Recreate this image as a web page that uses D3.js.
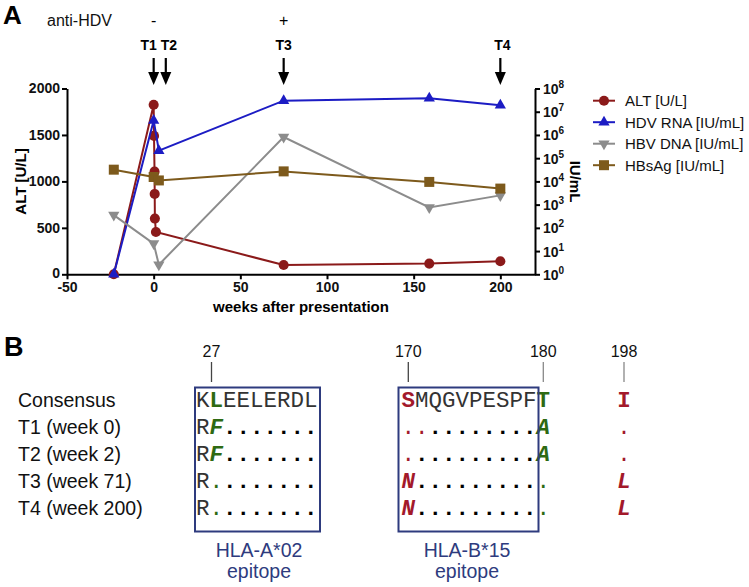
<!DOCTYPE html>
<html><head><meta charset="utf-8">
<script src="https://cdn.jsdelivr.net/npm/d3@7"></script>
<style>body{margin:0;background:#fff} svg{display:block;font-family:"Liberation Sans",Arial,sans-serif}</style>
</head><body><svg id="c" width="749" height="587"></svg>
<script>
// ---------- Data: panel A ----------
const altWeeks  = [-23, 0, 0.2, 0.5, 0.6, 0.7, 1.3, 75, 159, 200];
const altValues = [0, 1825, 1490, 1105, 865, 600, 455, 100, 115, 140];
const virWeeks  = [-23, 0, 3, 75, 159, 200];
const hdvRna    = [1, 4.2e6, 2.1e5, 3.0e7, 3.8e7, 1.9e7];
const hbvDna    = [355, 21, 2.6, 8.1e5, 760, 2500];
const hbsAg     = [3.2e4, 1.55e4, 1.1e4, 2.7e4, 9500, 4900];
const seriesNames = ["ALT [U/L]", "HDV RNA [IU/mL]", "HBV DNA [IU/mL]", "HBsAg [IU/mL]"];
const xTicks = [-50, 0, 50, 100, 150, 200];
const leftTicks = [0, 500, 1000, 1500, 2000];
const rightExponents = [0, 1, 2, 3, 4, 5, 6, 7, 8];
const timepoints = ["T1", "T2", "T3", "T4"];
const timepointWeeks = [0, 7, 75, 200];
const antiHdvSigns = ["-", "+"];
const antiHdvWeeks = [0, 75];

// ---------- Data: panel B ----------
const rowLabels = ["Consensus", "T1 (week 0)", "T2 (week 2)", "T3 (week 71)", "T4 (week 200)"];
const blockA = ["KLEELERDL", "RF.......", "RF.......", "R........", "R........"];
const blockB = ["SMQGVPESPFT", "..........A", "..........A", "N..........", "N.........."];
const pos198 = ["I", ".", ".", "L", "L"];
const positionLabels = ["27", "170", "180", "198"];
const epitopeNames = ["HLA-A*02", "HLA-B*15"];
// highlighted residues: [block, row, col, colour key, style]
const highlights = [
  ["A",0,1,"g","b"],["A",1,1,"g","bi"],["A",2,1,"g","bi"],["A",3,1,"g","n"],["A",4,1,"g","n"],
  ["B",0,0,"r","b"],["B",1,0,"r","n"],["B",1,1,"r","n"],["B",2,0,"r","n"],["B",3,0,"r","bi"],["B",4,0,"r","bi"],
  ["B",0,10,"g","b"],["B",1,10,"g","bi"],["B",2,10,"g","bi"],["B",3,10,"g","n"],["B",4,10,"g","n"],
  ["C",0,0,"r","b"],["C",1,0,"r","n"],["C",2,0,"r","n"],["C",3,0,"r","bi"],["C",4,0,"r","bi"]
];

const colors = {alt:"#8b1a1a", hdv:"#1c1cc4", hbv:"#8c8c8c", hbs:"#7d5a1c"};
const seqColors = {g:"#2e6a12", r:"#a3192b"};
const navy = "#2e3b7e";

const svg = d3.select("#c");

// ---------- Panel A ----------
const x = d3.scaleLinear().domain([-50, 220]).range([67, 535]);
const yL = d3.scaleLinear().domain([0, 2000]).range([274.3, 88.5]);
const yR = d3.scaleLog().domain([1, 1e8]).range([274.3, 88.5]);

function styleAxis(g){
  g.select(".domain").attr("stroke","#000").attr("stroke-width",2);
  g.selectAll(".tick line").attr("stroke","#000").attr("stroke-width",2);
  g.selectAll(".tick text").attr("font-weight","bold").attr("font-size",14).attr("font-family","Liberation Sans, Arial, sans-serif").attr("fill","#111");
}
const gx = svg.append("g").attr("transform","translate(0,274.3)")
  .call(d3.axisBottom(x).tickValues(xTicks).tickSize(5).tickSizeOuter(0).tickPadding(3).tickFormat(d=>String(d)));
styleAxis(gx);
const gl = svg.append("g").attr("transform","translate(67,0)")
  .call(d3.axisLeft(yL).tickValues(leftTicks).tickSize(5).tickSizeOuter(0).tickPadding(2).tickFormat(d=>String(d)));
styleAxis(gl);
gl.selectAll(".tick text").filter(d=>d===0).attr("dy","0.2em");
const gr = svg.append("g").attr("transform","translate(535,0)")
  .call(d3.axisRight(yR).tickValues(rightExponents.map(e=>Math.pow(10,e))).tickSize(5).tickSizeOuter(0).tickFormat(""));
styleAxis(gr);
const rl = svg.append("g");
rightExponents.forEach(e=>{
  const t = rl.append("text").attr("x",543).attr("y",yR(Math.pow(10,e))+5.5)
    .attr("font-weight","bold").attr("font-size",14).attr("fill","#111");
  t.append("tspan").text("10");
  t.append("tspan").attr("dy",-6).attr("font-size",10).text(String(e));
});

svg.append("text").attr("transform","translate(20,181.5) rotate(-90)").attr("text-anchor","middle")
  .attr("dominant-baseline","central").attr("font-weight","bold").attr("font-size",15).text("ALT [U/L]");
svg.append("text").attr("transform","translate(575,181.5) rotate(90)").attr("text-anchor","middle")
  .attr("dominant-baseline","central").attr("font-weight","bold").attr("font-size",15).text("IU/mL");
svg.append("text").attr("x",(x(-50)+x(220))/2).attr("y",312).attr("text-anchor","middle")
  .attr("font-weight","bold").attr("font-size",15).text("weeks after presentation");

// series
const symCircle = d3.symbol().type(d3.symbolCircle).size(80);
const symTri = d3.symbol().type(d3.symbolTriangle).size(55);
const symSq = d3.symbol().type(d3.symbolSquare).size(100);

function drawSeries(xs, ys, yScale, color, sym, rot){
  const pts = xs.map((w,i)=>[x(w), yScale(ys[i])]);
  svg.append("path").attr("d", d3.line()(pts)).attr("fill","none").attr("stroke",color).attr("stroke-width",2);
  svg.append("g").selectAll("path").data(pts).join("path")
    .attr("d", sym()).attr("fill",color)
    .attr("transform",d=>`translate(${d[0]},${d[1]}) rotate(${rot})`);
}
drawSeries(altWeeks, altValues, yL, colors.alt, symCircle, 0);
drawSeries(virWeeks, hdvRna, yR, colors.hdv, symTri, 0);
drawSeries(virWeeks, hbvDna, yR, colors.hbv, symTri, 180);
drawSeries(virWeeks, hbsAg, yR, colors.hbs, symSq, 0);

// legend
const legColors = [colors.alt, colors.hdv, colors.hbv, colors.hbs];
const legSyms = [[symCircle,0],[symTri,0],[symTri,180],[symSq,0]];
seriesNames.forEach((n,i)=>{
  const yy = 100.7 + i*21.5;
  svg.append("line").attr("x1",593).attr("x2",615).attr("y1",yy).attr("y2",yy).attr("stroke",legColors[i]).attr("stroke-width",2);
  svg.append("path").attr("d",legSyms[i][0]()).attr("fill",legColors[i]).attr("transform",`translate(604,${yy}) rotate(${legSyms[i][1]})`);
  svg.append("text").attr("x",625).attr("y",yy+5.3).attr("font-size",15).attr("fill","#111").text(n);
});

// top annotations
svg.append("text").attr("x",3).attr("y",23.5).attr("font-weight","bold").attr("font-size",26).text("A");
svg.append("text").attr("x",47).attr("y",26).attr("font-size",16).attr("fill","#111").text("anti-HDV");
antiHdvSigns.forEach((s,i)=>svg.append("text").attr("x",x(antiHdvWeeks[i])).attr("y",26)
  .attr("text-anchor","middle").attr("font-size",16).text(s));
const labelShift = [-5, 3, 0, 2];
timepoints.forEach((t,i)=>{
  const xx = x(timepointWeeks[i]);
  svg.append("text").attr("x",xx+labelShift[i]).attr("y",50).attr("text-anchor","middle")
    .attr("font-weight","bold").attr("font-size",14).text(t);
  svg.append("line").attr("x1",xx).attr("x2",xx).attr("y1",58).attr("y2",74).attr("stroke","#000").attr("stroke-width",2.2);
  svg.append("path").attr("d",`M${xx-5.5},72 L${xx+5.5},72 L${xx},85 Z`).attr("fill","#000");
});

// ---------- Panel B ----------
svg.append("text").attr("x",4).attr("y",355.5).attr("font-weight","bold").attr("font-size",27).text("B");
const rowBase = i => 407 + 27*i;
const charW = 13.5;
const mono = "'Courier New','Nimbus Mono PS','Nimbus Mono L','FreeMono','Liberation Mono',monospace";
rowLabels.forEach((l,i)=>svg.append("text").attr("x",18).attr("y",rowBase(i)).attr("font-size",19.5).attr("fill","#111").text(l));

const blocks = {A:{seq:blockA, x0:196}, B:{seq:blockB, x0:401.5}, C:{seq:pos198, x0:617.3}};
const hlMap = new Map(highlights.map(h=>[h[0]+"-"+h[1]+"-"+h[2], h]));
Object.entries(blocks).forEach(([k,b])=>{
  b.seq.forEach((s,r)=>{
    s.split("").forEach((ch,c)=>{
      const h = hlMap.get(k+"-"+r+"-"+c);
      const t = svg.append("text").attr("x",b.x0 + c*charW).attr("y",rowBase(r))
        .attr("font-family",mono).attr("font-size",22.5).text(ch);
      if(h){
        t.attr("fill",seqColors[h[3]]);
        if(h[4].includes("b")) t.attr("font-weight","bold");
        if(h[4].includes("i")) t.attr("font-style","italic");
      } else {
        t.attr("fill", ch==="." ? "#000" : "#333").attr("font-weight", ch==="." ? "bold":"normal");
      }
    });
  });
});
// boxes
svg.append("rect").attr("x",195).attr("y",387.5).attr("width",125).attr("height",144).attr("fill","none").attr("stroke",navy).attr("stroke-width",2);
svg.append("rect").attr("x",398.5).attr("y",387.5).attr("width",140).attr("height",144).attr("fill","none").attr("stroke",navy).attr("stroke-width",2);
// position markers
const posX = [211.5, 408.3, 543.3, 624];
const posCol = ["#444","#444","#888","#888"];
positionLabels.forEach((p,i)=>{
  svg.append("text").attr("x",posX[i]).attr("y",357).attr("text-anchor","middle").attr("font-size",16).attr("fill","#111").text(p);
  svg.append("line").attr("x1",posX[i]).attr("x2",posX[i]).attr("y1",362).attr("y2",382).attr("stroke",posCol[i]).attr("stroke-width",1.3);
});
// epitope labels
const epX = [259, 467];
epitopeNames.forEach((n,i)=>{
  svg.append("text").attr("x",epX[i]).attr("y",557).attr("text-anchor","middle").attr("font-size",19.5).attr("fill",navy).text(n);
  svg.append("text").attr("x",epX[i]).attr("y",578).attr("text-anchor","middle").attr("font-size",19.5).attr("fill",navy).text("epitope");
});
</script></body></html>
